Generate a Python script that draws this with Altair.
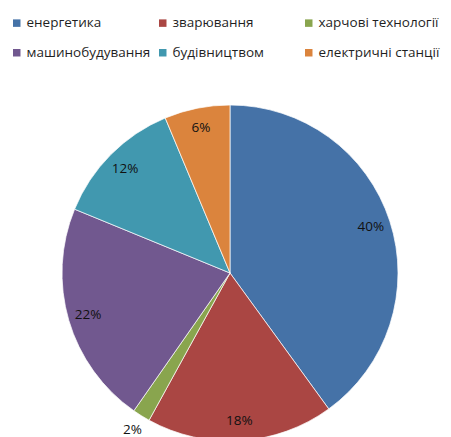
import altair as alt
import pandas as pd

categories = ["енергетика", "зварювання", "харчові технології",
              "машинобудування", "будівництвом", "електричні станції"]
values = [40, 18, 1.7, 21.5, 12.5, 6.3]
labels = ["40%", "18%", "2%", "22%", "12%", "6%"]
colors = ["#4572A7", "#AA4643", "#89A54E", "#71588F", "#4198AF", "#DB843D"]

df = pd.DataFrame({
    "cat": categories,
    "value": values,
    "label": labels,
    "order": list(range(len(categories))),
})

CX, CY, R = 222, 265, 168

pie = alt.Chart(df).mark_arc(radius=R, stroke="#ffffff", strokeWidth=0.7).encode(
    theta=alt.Theta("value:Q", stack=True),
    order=alt.Order("order:Q"),
    x=alt.value(CX),
    y=alt.value(CY),
    color=alt.Color(
        "cat:N",
        sort=categories,
        scale=alt.Scale(domain=categories, range=colors),
        legend=alt.Legend(
            title=None,
            orient="none",
            direction="horizontal",
            legendX=2,
            legendY=8,
            columns=3,
            gridAlign="all",
            symbolType="square",
            symbolSize=56,
            symbolStrokeWidth=0,
            labelFontSize=13.5,
            labelFont="Open Sans",
            labelColor="#1f1f1f",
            labelOffset=3,
            rowPadding=15,
            columnPadding=5,
            labelLimit=200,
        ),
    ),
)

lab = alt.Chart(df).transform_joinaggregate(
    total="sum(value)"
).transform_window(
    cum="sum(value)", sort=[alt.SortField("order")]
).transform_calculate(
    mid="(datum.cum - datum.value / 2) / datum.total * 2 * PI"
)

def text_layer(cond, r):
    return lab.transform_filter(cond).mark_text(
        fontSize=13.5, font="Open Sans", color="#111111", radius=r
    ).encode(
        theta=alt.Theta("mid:Q", scale=None),
        x=alt.value(CX),
        y=alt.value(CY),
        text="label:N",
    )

text_in = text_layer("datum.value >= 2", 148)
text_out = text_layer("datum.value < 2", 185)

chart = (pie + text_in + text_out).properties(
    width=435,
    height=429,
    padding=0,
    autosize=alt.AutoSizeParams(type="none"),
).configure_view(stroke=None)

chart.save("out.html", embed_options={"renderer": "svg", "actions": False})
